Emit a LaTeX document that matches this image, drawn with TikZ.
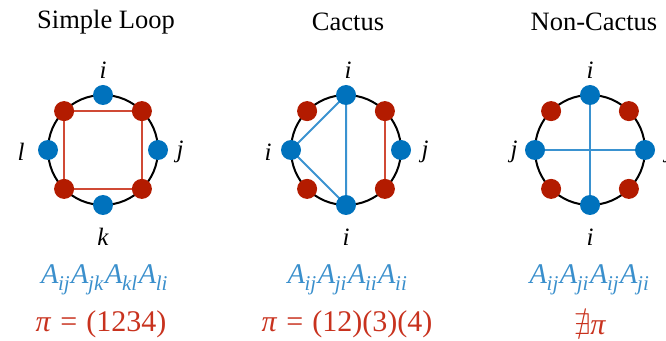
\documentclass[tikz,border=0pt]{standalone}
\usepackage{fontspec}
\usepackage{amssymb}
\setmainfont{Liberation Serif}
\definecolor{nblue}{HTML}{0072BD}
\definecolor{nred}{HTML}{B31B00}
\definecolor{lblue}{HTML}{3A92D0}
\definecolor{lred}{HTML}{D04A35}
\definecolor{tblue}{HTML}{3A8FCC}
\definecolor{tred}{HTML}{C8321E}
\tikzset{
  ring/.style={draw=black, line width=2pt},
  bnode/.style={circle, fill=nblue, minimum size=20pt, inner sep=0pt},
  rnode/.style={circle, fill=nred, minimum size=20pt, inner sep=0pt},
  bline/.style={draw=lblue, line width=2pt},
  rline/.style={draw=lred, line width=2pt},
  lab/.style={font=\fontsize{25}{25}\selectfont\itshape, inner sep=0pt},
  ttl/.style={font=\fontsize{26.5}{26.5}\selectfont, inner sep=0pt},
  frm/.style={font=\fontsize{28.5}{28.5}\selectfont, text=tblue, inner sep=0pt},
  prm/.style={font=\fontsize{30}{30}\selectfont, text=tred, inner sep=0pt},
}
\newcommand{\Asub}[1]{\textit{A}\kern-0.5pt\raisebox{-6.5pt}{\fontsize{21}{21}\selectfont\textit{#1}}\kern1.5pt}
\newcommand{\Eq}{\hspace{0.3em}=\hspace{0.3em}}
\begin{document}
\begin{tikzpicture}[x=1pt,y=1pt]
\useasboundingbox (0,0) rectangle (666,340);
\clip (0,0) rectangle (666,340);
% ---------- Panel 1: Simple Loop ----------
\begin{scope}[shift={(103,190)}]
  \draw[ring] (0,0) circle (55);
  \coordinate (r1a) at (135:55);
  \coordinate (r1b) at (45:55);
  \coordinate (r1c) at (-45:55);
  \coordinate (r1d) at (-135:55);
  \coordinate (b1t) at (90:55);
  \coordinate (b1r) at (0:55);
  \coordinate (b1b) at (-90:55);
  \coordinate (b1l) at (180:55);
\end{scope}
\draw[rline] (r1a) -- (r1b) -- (r1c) -- (r1d) -- cycle;
\node[rnode] (n1a) at (r1a) {};
\node[rnode] (n1b) at (r1b) {};
\node[rnode] (n1c) at (r1c) {};
\node[rnode] (n1d) at (r1d) {};
\node[bnode] (m1t) at (b1t) {};
\node[bnode] (m1r) at (b1r) {};
\node[bnode] (m1b) at (b1b) {};
\node[bnode] (m1l) at (b1l) {};
\node[lab] (l1t) at (103,270) {i};
\node[lab] (l1r) at (180,188) {j};
\node[lab] (l1b) at (103,103) {k};
\node[lab] (l1l) at (21,188) {l};
\node[ttl] (t1) at (106,318) {Simple Loop};
\node[frm] (f1) at (105,60) {\Asub{ij}\Asub{jk}\Asub{kl}\Asub{li}};
\node[prm] (p1) at (101,16) {\textit{π}\Eq(1234)};
% ---------- Panel 2: Cactus ----------
\begin{scope}[shift={(346,190)}]
  \draw[ring] (0,0) circle (55);
  \coordinate (r2a) at (135:55);
  \coordinate (r2b) at (45:55);
  \coordinate (r2c) at (-45:55);
  \coordinate (r2d) at (-135:55);
  \coordinate (b2t) at (90:55);
  \coordinate (b2r) at (0:55);
  \coordinate (b2b) at (-90:55);
  \coordinate (b2l) at (180:55);
\end{scope}
\draw[bline] (b2t) -- (b2l) -- (b2b) -- (b2t);
\draw[rline] (r2b) -- (r2c);
\node[rnode] (n2a) at (r2a) {};
\node[rnode] (n2b) at (r2b) {};
\node[rnode] (n2c) at (r2c) {};
\node[rnode] (n2d) at (r2d) {};
\node[bnode] (m2t) at (b2t) {};
\node[bnode] (m2r) at (b2r) {};
\node[bnode] (m2b) at (b2b) {};
\node[bnode] (m2l) at (b2l) {};
\node[lab] (l2t) at (348,270) {i};
\node[lab] (l2r) at (425,188) {j};
\node[lab] (l2b) at (346,103) {i};
\node[lab] (l2l) at (268,188) {i};
\node[ttl] (t2) at (348,318) {Cactus};
\node[frm] (f2) at (348,60) {\Asub{ij}\Asub{ji}\Asub{ii}\Asub{ii}};
\node[prm] (p2) at (347,16) {\textit{π}\Eq(12)(3)(4)};
% ---------- Panel 3: Non-Cactus ----------
\begin{scope}[shift={(590,190)}]
  \draw[ring] (0,0) circle (55);
  \coordinate (r3a) at (135:55);
  \coordinate (r3b) at (45:55);
  \coordinate (r3c) at (-45:55);
  \coordinate (r3d) at (-135:55);
  \coordinate (b3t) at (90:55);
  \coordinate (b3r) at (0:55);
  \coordinate (b3b) at (-90:55);
  \coordinate (b3l) at (180:55);
\end{scope}
\draw[bline] (b3t) -- (b3b);
\draw[bline] (b3l) -- (b3r);
\node[rnode] (n3a) at (r3a) {};
\node[rnode] (n3b) at (r3b) {};
\node[rnode] (n3c) at (r3c) {};
\node[rnode] (n3d) at (r3d) {};
\node[bnode] (m3t) at (b3t) {};
\node[bnode] (m3r) at (b3r) {};
\node[bnode] (m3b) at (b3b) {};
\node[bnode] (m3l) at (b3l) {};
\node[lab] (l3t) at (590,270) {i};
\node[lab] (l3r) at (669,188) {j};
\node[lab] (l3b) at (590,103) {i};
\node[lab] (l3l) at (514,188) {j};
\node[ttl] (t3) at (594,318) {Non-Cactus};
\node[frm] (f3) at (590,60) {\Asub{ij}\Asub{ji}\Asub{ij}\Asub{ji}};
\node[prm] (p3) at (590,16) {$\nexists$\textit{π}};
\end{tikzpicture}
\end{document}
